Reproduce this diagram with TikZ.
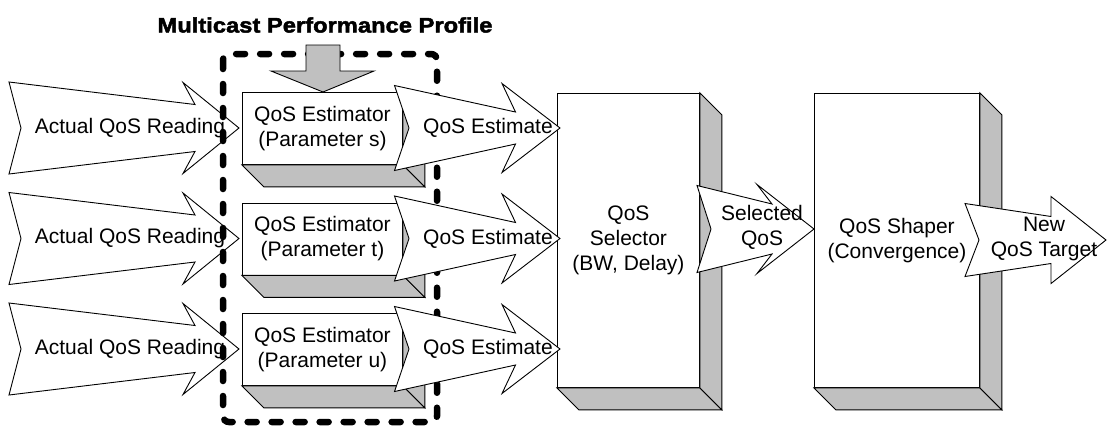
\documentclass[tikz,border=0pt]{standalone}
\usepackage{fontspec}
\setmainfont{Liberation Sans}
\newfontfamily\titlefont[FakeStretch=1.13,FakeBold=2.2]{Liberation Sans Bold}
\definecolor{boxgray}{HTML}{C0C0C0}

% block arrow with notched tail:
% #1 tail x, #2 notch x, #3 neck x, #4 barb x, #5 tip x,
% #6 centre y, #7 tail half-height, #8 neck half-height, #9 barb half-height
\newcommand\notcharrow[9]{%
  \filldraw[blockarrow] (#1,{#6-#7}) -- (#3,{#6-#8}) -- (#4,{#6-#9}) -- (#5,#6)
    -- (#4,{#6+#9}) -- (#3,{#6+#8}) -- (#1,{#6+#7}) -- (#2,#6) -- cycle;}

% grey bottom and right faces of a raised block
\newcommand\extrude[1]{%
  \filldraw[sideface] (#1.south west) -- (#1.south east) -- ++(22,22)
    -- ([shift={(22,22)}]#1.south west) -- cycle;
  \filldraw[sideface] (#1.north east) -- ++(22,22)
    -- ([shift={(22,22)}]#1.south east) -- (#1.south east) -- cycle;}

\begin{document}
\begin{tikzpicture}[x=1pt,y=-1pt,
  font=\fontsize{21}{25}\selectfont,
  front/.style={draw, fill=white, line width=0.9pt, inner sep=0pt,
    anchor=north west, align=center},
  sideface/.style={draw, fill=boxgray, line width=0.9pt},
  blockarrow/.style={draw, fill=white, line width=0.9pt, line join=miter},
  lbl/.style={align=center, inner sep=0pt},
  profile/.style={line width=6.5pt, dash pattern=on 9pt off 15pt,
    line cap=round, rounded corners=6pt}]
\useasboundingbox (0,0) rectangle (1107,429);

% title
\node[lbl, font=\titlefont\fontsize{21}{25}\selectfont] (title) at (325,25)
  {Multicast Performance Profile};

% incoming readings
\foreach \cy/\r in {128/s,238.5/t,349/u}{
  \notcharrow{9}{21}{195}{183}{239}{\cy}{46}{23.5}{45.5}
  \node[lbl] (read\r) at (130,\cy) {Actual QoS Reading};
}

% performance profile frame
\draw[profile] (223,54) rectangle (437,422);

% estimators
\foreach \cy/\r in {128/s,238.5/t,349/u}{
  \node[front, minimum width=160pt, minimum height=72pt] (est\r)
    at (242,{\cy-36}) {QoS Estimator\\(Parameter \r)};
  \extrude{est\r}
}

% selector and shaper
\node[front, minimum width=142pt, minimum height=294pt] (sel) at (557,93)
  {QoS\\Selector\\(BW, Delay)};
\extrude{sel}
\node[front, minimum width=165pt, minimum height=294pt] (shp) at (814,93)
  {QoS Shaper\\(Convergence)};
\extrude{shp}

% estimates into the selector
\foreach \cy/\r in {128/s,238.5/t,349/u}{
  \notcharrow{394.5}{409}{515.5}{502}{560}{\cy}{42.5}{16}{44.5}
  \node[lbl] (qe\r) at (488,\cy) {QoS Estimate};
}

% profile input
\filldraw[sideface, fill=boxgray] (306,45) -- (340,45) -- (340,71) -- (374,71)
  -- (323,92) -- (271,71) -- (306,71) -- cycle;
\coordinate (profin) at (323,92);

% selected QoS into the shaper
\notcharrow{697}{711}{772}{757}{814}{229}{43.5}{25}{44.5}
\node[lbl] (selq) at (762,227) {Selected\\QoS};

% output target
\notcharrow{965}{979}{1051}{1051}{1106}{240}{36.5}{23.5}{43.5}
\node[lbl] (target) at (1044,239) {New\\QoS Target};
\end{tikzpicture}
\end{document}
